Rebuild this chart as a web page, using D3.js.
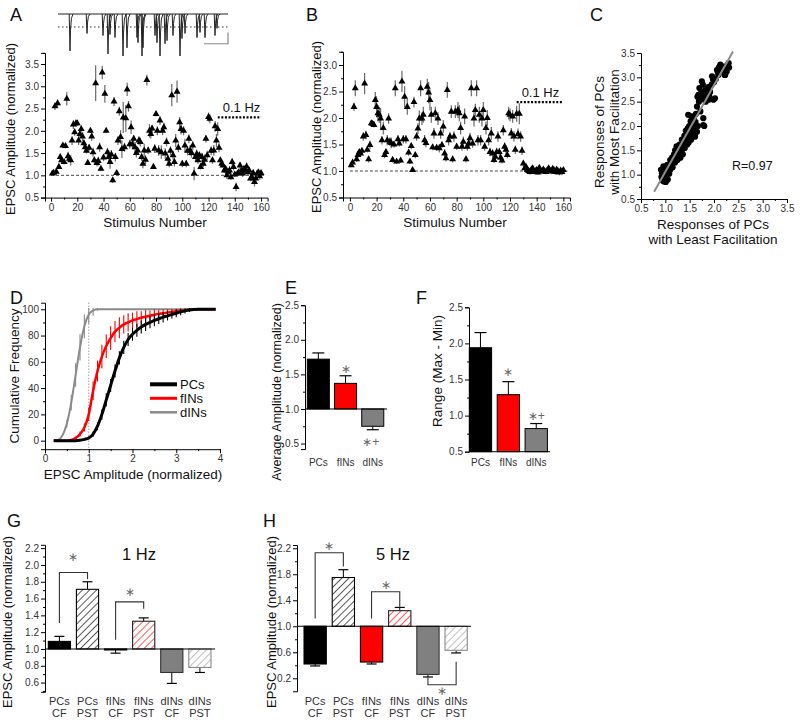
<!DOCTYPE html>
<html><head><meta charset="utf-8">
<script src="https://cdn.jsdelivr.net/npm/d3@7"></script>
<style>body{margin:0;background:#fff} svg{display:block}</style>
</head><body><svg id="c" width="800" height="725"></svg>
<script>
// ---------------- DATA ----------------
// Panel A (most facilitating PC), stimuli 1..160
const stimA = d3.range(1, 161);
const ampA = [
1.04,1.06,2.55,1.08,2.62,1.19,1.41,1.34,1.67,1.30,
1.66,2.72,1.43,1.37,1.34,1.78,2.14,1.97,2.17,2.17,
1.78,1.93,2.04,1.87,1.72,1.63,1.55,1.28,1.62,2.00,
1.87,1.52,1.34,3.07,1.28,1.32,1.63,1.15,3.31,1.40,
2.83,2.00,1.52,1.41,1.30,1.47,0.89,2.66,1.41,1.05,
1.78,2.44,1.86,1.59,2.30,1.63,2.28,2.93,2.55,1.70,
2.08,1.70,1.82,1.63,1.50,1.56,1.78,1.75,1.41,1.26,
1.56,1.35,3.14,1.56,2.00,1.93,2.05,1.19,1.60,2.38,
2.00,1.56,2.23,1.52,2.00,2.08,1.49,1.75,1.37,1.26,
1.55,2.80,1.45,1.30,1.78,2.88,1.62,2.19,2.04,1.26,
2.00,1.67,1.26,1.55,1.82,1.56,1.50,1.67,1.04,1.41,
1.48,1.34,1.45,1.19,1.41,1.26,1.35,1.82,1.45,2.31,
2.27,1.55,1.34,1.56,2.10,1.78,2.04,1.62,1.34,1.26,
1.22,1.11,1.15,1.00,1.08,1.11,0.96,1.30,1.19,1.02,
0.74,1.04,1.07,1.22,1.10,1.04,1.15,1.11,1.20,1.07,
1.11,0.93,0.96,1.05,0.85,0.93,1.04,1.07,0.98,1.05];
const errA = [
0.04,0.04,0.08,0.05,0.08,0.05,0.06,0.08,0.06,0.05,
0.06,0.15,0.10,0.06,0.12,0.10,0.10,0.08,0.08,0.06,
0.10,0.08,0.08,0.10,0.08,0.08,0.06,0.05,0.08,0.05,
0.10,0.10,0.08,0.40,0.08,0.10,0.10,0.06,0.15,0.08,
0.20,0.05,0.10,0.15,0.15,0.10,0.06,0.10,0.10,0.06,
0.10,0.10,0.15,0.20,0.35,0.10,0.30,0.15,0.12,0.10,
0.15,0.10,0.08,0.12,0.10,0.08,0.10,0.10,0.08,0.10,
0.15,0.10,0.12,0.08,0.15,0.10,0.08,0.05,0.10,0.06,
0.10,0.12,0.10,0.15,0.10,0.10,0.12,0.10,0.08,0.08,
0.10,0.25,0.10,0.10,0.15,0.25,0.10,0.12,0.12,0.08,
0.10,0.15,0.08,0.10,0.10,0.12,0.10,0.10,0.15,0.10,
0.10,0.08,0.08,0.06,0.10,0.08,0.12,0.08,0.10,0.10,
0.10,0.10,0.08,0.12,0.12,0.15,0.15,0.10,0.06,0.06,
0.05,0.06,0.06,0.08,0.06,0.10,0.06,0.08,0.08,0.06,
0.10,0.06,0.06,0.08,0.06,0.08,0.06,0.06,0.08,0.06,
0.06,0.06,0.08,0.08,0.10,0.08,0.06,0.06,0.08,0.06];

// Panel B
const stimB = d3.range(1, 161);
const ampB = [
1.11,1.16,2.21,2.56,1.22,1.30,1.36,1.33,1.38,1.65,
2.65,1.68,1.40,1.22,1.49,1.90,1.89,1.87,2.34,2.21,
2.09,2.06,1.99,1.58,1.81,1.30,1.36,1.58,1.99,1.55,
1.53,1.21,1.50,2.56,1.18,1.60,1.52,1.20,2.69,1.60,
2.40,1.60,2.21,1.35,1.18,1.47,1.02,2.30,1.30,1.65,
1.80,1.99,2.56,1.99,2.06,1.58,1.53,2.59,2.48,2.34,
2.06,1.45,1.71,2.09,1.44,1.99,1.43,1.71,1.49,1.84,
1.33,1.24,2.53,1.58,1.65,2.12,1.22,1.65,2.12,1.46,
2.15,2.09,1.81,1.46,1.55,2.03,1.22,1.46,1.52,1.62,
2.56,1.52,1.99,2.15,2.56,1.58,2.06,1.58,1.99,2.15,
1.46,1.81,2.00,1.58,1.36,1.71,1.33,1.21,1.27,1.36,
1.65,1.36,1.25,1.20,1.77,1.46,1.40,1.30,2.09,2.06,
1.71,2.03,1.65,1.40,2.08,1.70,2.08,1.65,1.38,1.14,
1.05,1.08,1.02,1.00,0.98,1.03,1.05,0.98,1.00,1.02,
0.97,1.06,1.01,0.99,1.03,1.00,0.98,1.02,1.05,1.01,
0.99,1.04,1.02,0.98,1.03,1.00,0.97,1.01,0.98,1.02];
const errB = [
0.04,0.05,0.08,0.15,0.05,0.05,0.05,0.05,0.05,0.08,
0.20,0.08,0.05,0.06,0.08,0.05,0.05,0.05,0.15,0.20,
0.15,0.15,0.20,0.08,0.12,0.06,0.06,0.10,0.10,0.08,
0.10,0.05,0.06,0.15,0.05,0.08,0.06,0.05,0.20,0.08,
0.20,0.08,0.15,0.06,0.05,0.06,0.04,0.10,0.06,0.08,
0.10,0.15,0.15,0.12,0.15,0.10,0.08,0.15,0.20,0.20,
0.15,0.06,0.10,0.12,0.06,0.12,0.08,0.10,0.06,0.12,
0.08,0.06,0.15,0.10,0.08,0.12,0.06,0.10,0.12,0.06,
0.15,0.15,0.12,0.08,0.10,0.15,0.06,0.08,0.08,0.10,
0.15,0.08,0.15,0.12,0.15,0.10,0.15,0.10,0.15,0.15,
0.08,0.12,0.15,0.10,0.08,0.12,0.08,0.06,0.08,0.08,
0.10,0.08,0.08,0.06,0.10,0.08,0.08,0.06,0.12,0.12,
0.10,0.12,0.10,0.08,0.15,0.10,0.20,0.10,0.08,0.06,
0.05,0.05,0.04,0.04,0.05,0.04,0.05,0.04,0.04,0.05,
0.04,0.05,0.04,0.04,0.05,0.04,0.04,0.05,0.04,0.04,
0.05,0.04,0.04,0.05,0.04,0.04,0.05,0.04,0.04,0.04];

// Inset trace (ms, pA)
const traceTimes = [120,290,450,500,520,570,650,690,790,800,840,850,970,990,1020,1070,1090,1150,1220,1240,1270,1390,1420,1470,1570,1590];
const traceAmps  = [360,190,210,390,200,230,410,330,230,280,410,330,210,280,410,290,260,210,410,240,190,230,180,230,210,140];

// Panel C
const cLeast = [0.92,0.93,0.94,0.95,0.96,0.97,0.98,0.99,1.00,1.01,1.02,1.03,1.04,1.05,1.06,1.08,1.10,1.10,1.12,1.14,
1.15,1.16,1.18,1.20,1.20,1.22,1.23,1.24,1.25,1.26,1.28,1.29,1.30,1.31,1.32,1.33,1.34,1.35,1.36,1.37,
1.38,1.39,1.40,1.41,1.42,1.43,1.44,1.45,1.46,1.47,1.48,1.49,1.50,1.51,1.52,1.53,1.54,1.55,1.56,1.57,
1.58,1.59,1.60,1.61,1.62,1.63,1.65,1.66,1.67,1.68,1.69,1.70,1.71,1.72,1.73,1.74,1.75,1.76,1.77,1.78,
1.78,1.80,1.82,1.83,1.85,1.86,1.88,1.89,1.90,1.92,1.95,1.96,1.98,1.99,2.00,2.02,2.04,2.06,2.08,2.09,
2.10,2.12,2.13,2.15,2.17,2.20,2.22,2.23,2.25,2.26,2.28,2.30,2.31,1.65,1.55,1.45,1.35,1.25,1.15,1.05,
0.95,1.00,0.91,0.97,1.07,1.12,1.18,1.27,1.62,1.80,1.58,1.48];
const cMost = [0.95,1.03,0.88,1.08,1.17,0.86,0.92,1.00,1.12,0.85,0.95,1.05,1.20,0.90,1.15,1.02,1.30,1.10,1.22,1.35,
1.15,1.28,1.42,1.50,1.25,1.38,1.58,1.45,1.30,1.52,1.40,1.62,1.50,1.35,1.45,1.60,1.72,1.52,1.42,1.71,
1.62,1.80,1.55,1.68,1.90,1.75,1.85,1.62,1.95,2.23,1.78,2.00,1.88,1.99,2.10,1.72,2.20,1.90,2.05,1.82,
2.13,2.20,1.95,1.78,2.08,2.25,1.88,2.60,2.00,2.64,2.50,2.78,2.54,2.30,2.62,2.70,2.92,2.55,2.85,2.16,
2.02,2.60,2.74,2.50,2.60,2.68,2.80,2.54,2.62,2.70,2.85,3.02,2.95,2.54,2.90,2.57,2.97,3.15,3.10,3.05,
3.20,3.22,3.26,3.18,3.12,3.22,3.05,3.05,3.15,3.12,3.25,3.29,3.20,2.40,1.95,1.75,1.60,1.45,1.25,1.08,
0.98,1.05,1.10,1.12,1.18,1.20,1.32,1.55,2.02,2.00,2.18,1.66];
const cFit = {slope: 1.778, intercept: -0.719, xStart: 0.77, xEnd: 2.39};
const cR = "R=0.97";

// Panel D cumulative frequency
const dAmp = [0.2,0.3,0.4,0.5,0.6,0.7,0.8,0.9,1.0,1.1,1.2,1.3,1.4,1.5,1.6,1.7,1.8,1.9,2.0,2.1,2.2,2.3,2.4,2.5,2.6,2.7,2.8,2.9,3.0,3.1,3.2,3.3,3.4,3.5,3.6,3.7,3.8,3.9];
const dPCs  = [0,0,0,0,0,0,0.3,1,2,5,11,20,31,42,53,63,71,77,81,84,86.5,88.5,90,91.5,92.8,94,95,96,97,98,98.8,99.4,99.8,100,100,100,100,100];
const dFINs = [0,0,0,0,0.5,2,5,10,20,38,53,64,72,78,83,86,88.5,90,91.5,92.5,93.5,94.3,95,95.8,96.5,97,97.6,98,98.5,99,99.3,99.6,99.8,100,100,100,100,100];
const dDINs = [0,0.5,4,13,29,50,71,87,96,99,100,100,100,100,100,100,100,100,100,100,100,100,100,100,100,100,100,100,100,100,100,100,100,100,100,100,100,100];
const dPCsErr  = [0,0,0,0,0,0,0,0.5,1,2,3,4,5,5,5,5,5,5,5,5,5,5,4.5,4.5,4,4,3.5,3,3,2.5,2,1.5,1,0,0,0,0,0];
const dFINsErr = [0,0,0,0,0,1,2,3,5,7,8,9,9,9,8,8,7,7,6,6,5,5,4,4,3,3,2.5,2,1.5,1,1,0.5,0,0,0,0,0,0];
const dDINsErr = [0,0,0.5,3,6,9,10,9,7,4,1,0,0,0,0,0,0,0,0,0,0,0,0,0,0,0,0,0,0,0,0,0,0,0,0,0,0,0];
const dLegend = ["PCs","fINs","dINs"];

// Panels E, F
const efCats = ["PCs","fINs","dINs"];
const eMean = [1.72,1.37,0.75];
const eErr  = [0.09,0.11,0.05];
const eSig = ["", "\u2217", "\u2217+"];
const eSigLevel = [null, 1.58, 0.52];
const fMean = [1.94,1.29,0.82];
const fErr  = [0.21,0.18,0.07];
const fSig = ["", "\u2217", "\u2217+"];
const fSigLevel = [null, 1.61, 1.0];

// Panels G, H
const ghCell = ["PCs","PCs","fINs","fINs","dINs","dINs"];
const ghCond = ["CF","PST","CF","PST","CF","PST"];
const gMean = [1.09,1.71,0.99,1.33,0.72,0.78];
const gErr  = [0.06,0.09,0.04,0.04,0.13,0.06];
const hMean = [0.42,1.75,0.45,1.24,0.26,0.63];
const hErr  = [0.03,0.12,0.03,0.05,0.04,0.04];
const gBrackets = [{a:0,b:1,top:1.91,aEnd:1.31,bEnd:1.83,star:2.10},{a:2,b:3,top:1.56,aEnd:1.11,bEnd:1.48,star:1.68}];
const hBrackets = [{a:0,b:1,top:2.13,aEnd:1.12,bEnd:1.92,star:2.24},{a:2,b:3,top:1.53,aEnd:1.12,bEnd:1.30,star:1.64},{a:4,b:5,top:0.10,aEnd:0.225,bEnd:0.455,star:0.00}];

// ---------------- DRAWING ----------------
const FONT = "'Liberation Sans', Arial, Helvetica, sans-serif";
const svg = d3.select('#c');
svg.append('rect').attr('width',800).attr('height',725).attr('fill','#fff');
const defs = svg.append('defs');
function hatch(id, color){
  const p = defs.append('pattern').attr('id',id).attr('patternUnits','userSpaceOnUse')
    .attr('width',5).attr('height',5).attr('patternTransform','rotate(45)');
  p.append('rect').attr('width',5).attr('height',5).attr('fill','#fff');
  p.append('line').attr('x1',0).attr('y1',0).attr('x2',0).attr('y2',5).attr('stroke',color).attr('stroke-width',1.3);
}
hatch('hK','#000'); hatch('hR','#ff0000'); hatch('hG','#9a9a9a');

function style(g){
  g.attr('font-family',FONT).attr('font-size',10);
  g.selectAll('text').attr('fill','#333');
  g.selectAll('line,path').attr('stroke','#000');
}
function axisL(scale, x, ticks, minor, fmt){
  const g = svg.append('g').attr('transform',`translate(${x},0)`)
    .call(d3.axisLeft(scale).tickValues(ticks).tickSize(4).tickPadding(2).tickFormat(fmt));
  style(g);
  if (minor){
    const m = svg.append('g').attr('transform',`translate(${x},0)`)
      .call(d3.axisLeft(scale).tickValues(minor).tickSize(2).tickFormat(''));
    m.select('.domain').remove(); style(m);
  }
  return g;
}
function axisB(scale, y, ticks, minor, fmt){
  const g = svg.append('g').attr('transform',`translate(0,${y})`)
    .call(d3.axisBottom(scale).tickValues(ticks).tickSize(4).tickPadding(2).tickFormat(fmt));
  style(g);
  if (minor){
    const m = svg.append('g').attr('transform',`translate(0,${y})`)
      .call(d3.axisBottom(scale).tickValues(minor).tickSize(2).tickFormat(''));
    m.select('.domain').remove(); style(m);
  }
  return g;
}
function txt(x,y,s,size,opts={}){
  const t = svg.append('text').attr('x',x).attr('y',y).text(s)
    .attr('font-family',FONT).attr('font-size',size).attr('fill',opts.fill||'#111')
    .attr('text-anchor',opts.anchor||'start');
  return t;
}
function vtxt(x,y,s,size){
  return svg.append('text').attr('transform',`translate(${x},${y}) rotate(-90)`).text(s)
    .attr('font-family',FONT).attr('font-size',size).attr('fill','#111').attr('text-anchor','middle');
}
const f1 = d3.format('.1f');

// Panel letters
[['A',10,21],['B',306,21],['C',590,21],['D',10,304],['E',285,294],['F',416,304],['G',7,527],['H',263,527]]
  .forEach(([l,x,y])=>txt(x,y,l,18));

// ---- Scatter panels A, B ----
function scatter(stim, amp, err, xs, ys, hz){
  const g = svg.append('g');
  g.append('line').attr('x1',xs(0)).attr('x2',xs(160)+4).attr('y1',ys(1)).attr('y2',ys(1))
    .attr('stroke','#333').attr('stroke-dasharray','3,2').attr('stroke-width',0.9);
  g.selectAll('line.e').data(stim).join('line').attr('class','e')
    .attr('x1',(d)=>xs(d)).attr('x2',(d)=>xs(d))
    .attr('y1',(d,i)=>ys(amp[i]-err[i])).attr('y2',(d,i)=>ys(amp[i]+err[i]))
    .attr('stroke','#6a6a6a').attr('stroke-width',1.2);
  const sym = d3.symbol(d3.symbolTriangle, 21)();
  g.selectAll('path.t').data(stim).join('path').attr('class','t')
    .attr('transform',(d,i)=>`translate(${xs(d)},${ys(amp[i])})`).attr('d',sym).attr('fill','#000');
  g.append('line').attr('x1',xs(hz.from)).attr('x2',xs(160)).attr('y1',ys(hz.level)).attr('y2',ys(hz.level))
    .attr('stroke','#000').attr('stroke-width',2.2).attr('stroke-dasharray','2,1.6');
  txt(xs(hz.from)+5, ys(hz.level)-5, '0.1 Hz', 13);
}
const xA = d3.scaleLinear().domain([-4.6,165]).range([45,267.6]);
const yA = d3.scaleLinear().domain([0.5,3.75]).range([197.6,52.9]);
axisL(yA,45,d3.range(0.5,3.51,0.5),d3.range(0.75,3.76,0.5),f1);
axisB(xA,197.6,d3.range(0,161,20),d3.range(10,161,20),d3.format('d'));
scatter(stimA, ampA, errA, xA, yA, {from:127, level:2.3});
vtxt(15,129,'EPSC Amplitude (normalized)',13);
txt(155,227,'Stimulus Number',13.5,{anchor:'middle'});

const xB = d3.scaleLinear().domain([-5.2,165]).range([343,570]);
const yB = d3.scaleLinear().domain([0.5,3.25]).range([197.5,51.75]);
axisL(yB,343,d3.range(0.5,3.01,0.5),d3.range(0.75,3.26,0.5),f1);
axisB(xB,197.5,d3.range(0,161,20),d3.range(10,161,20),d3.format('d'));
scatter(stimB, ampB, errB, xB, yB, {from:125, level:2.3});
vtxt(321,127,'EPSC Amplitude (normalized)',13);
txt(455,227,'Stimulus Number',13.5,{anchor:'middle'});

// inset trace
const tX = d3.scaleLinear().domain([0,1700]).range([58,228]);
const tY = d3.scaleLinear().domain([0,400]).range([14,55]);
svg.append('line').attr('x1',tX(0)).attr('x2',tX(1700)).attr('y1',tY(0)).attr('y2',tY(0)).attr('stroke','#222').attr('stroke-width',1.2);
svg.append('line').attr('x1',tX(0)).attr('x2',tX(1700)).attr('y1',27).attr('y2',27).attr('stroke','#333').attr('stroke-width',1).attr('stroke-dasharray','1.5,2.5');
const spikeLine = d3.line().x(d=>tX(d[0])).y(d=>tY(d[1]));
traceTimes.forEach((t,i)=>{
  const a = traceAmps[i];
  svg.append('path').attr('d', spikeLine([[t-8,0],[t,a],[t+5,a*0.45],[t+14,a*0.12],[t+30,0]]))
    .attr('fill','none').attr('stroke','#222').attr('stroke-width',1);
});
svg.append('path').attr('d',`M${tX(1460)},${tY(290)}H${tX(1700)}V${tY(180)}`).attr('fill','none').attr('stroke','#888').attr('stroke-width',1.2);

// ---- Panel C ----
const xC = d3.scaleLinear().domain([0.5,3.5]).range([641,787]);
const yC = d3.scaleLinear().domain([0.5,3.5]).range([199,53]);
axisL(yC,641,d3.range(0.5,3.51,0.5),d3.range(0.75,3.3,0.5),f1);
axisB(xC,199,d3.range(0.5,3.51,0.5),d3.range(0.75,3.3,0.5),f1);
svg.append('g').selectAll('circle').data(cLeast).join('circle')
  .attr('cx',d=>xC(d)).attr('cy',(d,i)=>yC(cMost[i])).attr('r',3.1).attr('fill','#000');
svg.append('line').attr('x1',xC(cFit.xStart)).attr('y1',yC(cFit.slope*cFit.xStart+cFit.intercept))
  .attr('x2',xC(cFit.xEnd)).attr('y2',yC(cFit.slope*cFit.xEnd+cFit.intercept))
  .attr('stroke','#8c8c8c').attr('stroke-width',2);
txt(732,170,cR,12.5);
txt(713,229,'Responses of PCs',13.5,{anchor:'middle'});
txt(713,244,'with Least Facilitation',13.5,{anchor:'middle'});
vtxt(604,132,'Responses of PCs',13.5);
vtxt(619,132,'with Most Facilitation',13.5);

// ---- Panel D ----
const xD = d3.scaleLinear().domain([0,4]).range([45,220]);
const yD = d3.scaleLinear().domain([-6.5,105]).range([449.2,302.7]);
axisL(yD,45,d3.range(0,101,20),d3.range(10,101,20),d3.format('d'));
axisB(xD,449.2,[0,1,2,3,4],[0.5,1.5,2.5,3.5],d3.format('d'));
svg.append('line').attr('x1',xD(1)).attr('x2',xD(1)).attr('y1',yD(105)).attr('y2',yD(-6.5))
  .attr('stroke','#777').attr('stroke-dasharray','1,2');
const dSeries = [
  {v:dDINs, e:dDINsErr, c:'#8a8a8a', w:2},
  {v:dFINs, e:dFINsErr, c:'#ff0000', w:2.5},
  {v:dPCs,  e:dPCsErr,  c:'#000',    w:3}
];
const dl = d3.line().x((d,i)=>xD(dAmp[i])).y(d=>yD(d)).curve(d3.curveMonotoneX);
dSeries.forEach(s=>{
  svg.append('g').selectAll('line').data(dAmp.filter((a,i)=>s.e[i]>0)).join('line')
    .attr('x1',d=>xD(d)).attr('x2',d=>xD(d))
    .attr('y1',d=>{const i=dAmp.indexOf(d);return yD(s.v[i]-s.e[i]);})
    .attr('y2',d=>{const i=dAmp.indexOf(d);return yD(Math.min(s.v[i]+s.e[i],101));})
    .attr('stroke',s.c).attr('stroke-width',1.1);
  svg.append('path').attr('d',dl(s.v)).attr('fill','none').attr('stroke',s.c).attr('stroke-width',s.w);
});
const legC = ['#000','#ff0000','#8a8a8a'], legW=[4,3,2.5];
dLegend.forEach((n,i)=>{
  const y = 384.3 + i*14;
  svg.append('line').attr('x1',150).attr('x2',177).attr('y1',y).attr('y2',y).attr('stroke',legC[i]).attr('stroke-width',legW[i]);
  txt(180,y+4.5,n,13);
});
vtxt(18.5,376,'Cumulative Frequency',13.5);
txt(133,479,'EPSC Amplitude (normalized)',13.5,{anchor:'middle'});

// ---- Bar helpers ----
function errBar(x, v0, v1, ys, half){
  svg.append('line').attr('x1',x).attr('x2',x).attr('y1',ys(v0)).attr('y2',ys(v1)).attr('stroke','#000').attr('stroke-width',1);
  svg.append('line').attr('x1',x-half).attr('x2',x+half).attr('y1',ys(v1)).attr('y2',ys(v1)).attr('stroke','#000').attr('stroke-width',1.2);
}
const solid = ['#000','#ff0000','#808080'];
const starFill = '#666';

// ---- Panel E ----
const yE = d3.scaleLinear().domain([0.42,2.5]).range([449.1,305.2]);
const xE = d3.scaleBand().domain(efCats).range([304.6,386.5]).paddingInner(0.19).paddingOuter(0.1);
axisL(yE,305,d3.range(0.5,2.51,0.5),d3.range(0.75,2.5,0.5),f1);
efCats.forEach((c,i)=>{
  const v = eMean[i], x0 = xE(c), w = xE.bandwidth(), cx = x0+w/2;
  const dir = v>=1?1:-1;
  errBar(cx, v, v+dir*eErr[i], yE, 6);
  svg.append('rect').attr('x',x0).attr('width',w).attr('y',yE(Math.max(v,1))).attr('height',Math.abs(yE(v)-yE(1)))
    .attr('fill',solid[i]).attr('stroke','#000').attr('stroke-width',1);
  if (eSig[i]) txt(cx+(i==2?-2:0), yE(eSigLevel[i])+4, eSig[i], 12, {anchor:'middle',fill:starFill});
  txt(cx, 466, c, 10, {anchor:'middle',fill:'#333'});
});
svg.append('line').attr('x1',305).attr('x2',387).attr('y1',yE(1)).attr('y2',yE(1)).attr('stroke','#000');
vtxt(281,392,'Average Amplitude (normalized)',12.5);

// ---- Panel F ----
const yF = d3.scaleLinear().domain([0.5,2.5]).range([451.7,307.3]);
const xF = d3.scaleBand().domain(efCats).range([469.3,547.4]).paddingInner(0.2).paddingOuter(0);
axisL(yF,469,d3.range(0.5,2.51,0.5),d3.range(0.75,2.5,0.5),f1);
efCats.forEach((c,i)=>{
  const v = fMean[i], x0 = xF(c), w = xF.bandwidth(), cx = x0+w/2;
  errBar(cx, v, v+fErr[i], yF, 6);
  svg.append('rect').attr('x',x0).attr('width',w).attr('y',yF(v)).attr('height',yF(0.5)-yF(v))
    .attr('fill',solid[i]).attr('stroke','#000').attr('stroke-width',1);
  if (fSig[i]) txt(cx, yF(fSigLevel[i])+4, fSig[i], 12, {anchor:'middle',fill:starFill});
  txt(cx, 466, c, 10, {anchor:'middle',fill:'#333'});
});
svg.append('line').attr('x1',469).attr('x2',550).attr('y1',yF(0.5)).attr('y2',yF(0.5)).attr('stroke','#000');
vtxt(442,371,'Range (Max - Min)',13.5);

// ---- Panels G, H ----
const ghFill = ['#000','url(#hK)','#ff0000','url(#hR)','#808080','url(#hG)'];
const ghStroke = ['#000','#000','#000','#222','#333','#8a8a8a'];
function ghPanel(mean, err, ys, xs, axisX, baseEnd, brackets, ticks, minor, hzText, hzX){
  axisL(ys, axisX, ticks, minor, f1);
  mean.forEach((v,i)=>{
    const x0 = xs(i), w = xs.bandwidth(), cx = x0+w/2;
    const dir = v>=1?1:-1;
    errBar(cx, v, v+dir*err[i], ys, 5);
    svg.append('rect').attr('x',x0).attr('width',w).attr('y',ys(Math.max(v,1))).attr('height',Math.max(1,Math.abs(ys(v)-ys(1))))
      .attr('fill',ghFill[i]).attr('stroke',ghStroke[i]).attr('stroke-width',1.1);
    txt(cx, 705, ghCell[i], 11, {anchor:'middle',fill:'#333'});
    txt(cx, 716.5, ghCond[i], 11, {anchor:'middle',fill:'#333'});
  });
  svg.append('line').attr('x1',axisX).attr('x2',baseEnd).attr('y1',ys(1)).attr('y2',ys(1)).attr('stroke','#000').attr('stroke-width',1.1);
  brackets.forEach(b=>{
    const xa = xs(b.a)+xs.bandwidth()/2, xb = xs(b.b)+xs.bandwidth()/2;
    svg.append('path').attr('d',`M${xa},${ys(b.aEnd)}V${ys(b.top)}H${xb}V${ys(b.bEnd)}`)
      .attr('fill','none').attr('stroke','#333').attr('stroke-width',1.1);
    txt((xa+xb)/2, ys(b.star)+4, '\u2217', 12, {anchor:'middle',fill:starFill});
  });
  txt(hzX, 560, hzText, 16.5);
}
const yG = d3.scaleLinear().domain([0.49,2.24]).range([691.8,544.8]);
const xG = d3.scaleBand().domain(d3.range(6)).range([45.5,213.8]).paddingInner(0.21).paddingOuter(0.1);
ghPanel(gMean, gErr, yG, xG, 45, 215, gBrackets, d3.range(0.6,2.21,0.2), d3.range(0.5,2.24,0.2), '1 Hz', 122);
vtxt(12,622,'EPSC Amplitude (normalized)',13);

const yH = d3.scaleLinear().domain([0,2.25]).range([691.3,545]);
const xH = d3.scaleBand().domain(d3.range(6)).range([301.2,470.1]).paddingInner(0.21).paddingOuter(0.1);
ghPanel(hMean, hErr, yH, xH, 297, 471, hBrackets, [0.2,0.6,1.0,1.4,1.8,2.2], [0.4,0.8,1.2,1.6,2.0], '5 Hz', 376);
vtxt(276,622,'EPSC Amplitude (normalized)',13);
</script></body></html>
